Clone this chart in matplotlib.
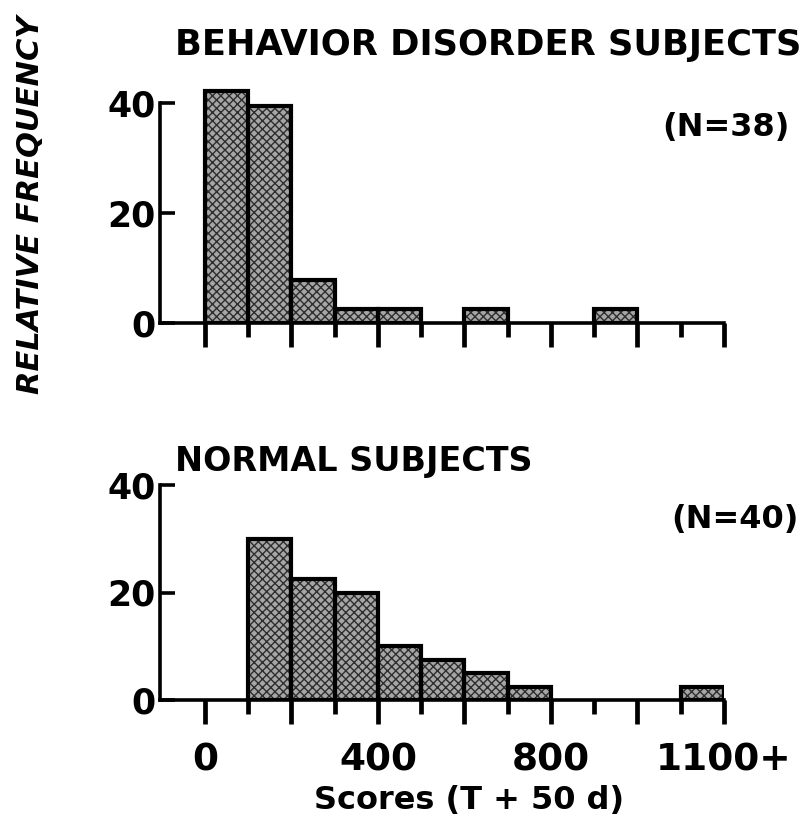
import numpy as np
import matplotlib
matplotlib.use("Agg")
import matplotlib.pyplot as plt

# bin edges in score units (T + 50 d), last bin is 1100+
bin_lefts = [0, 100, 200, 300, 400, 500, 600, 700, 800, 900, 1000, 1100]
# relative frequency (%) per bin
behavior_freq = [42.1, 39.5, 7.9, 2.6, 2.6, 0, 2.6, 0, 0, 2.6, 0, 0]
normal_freq = [0, 30.0, 22.5, 20.0, 10.0, 7.5, 5.0, 2.5, 0, 0, 0, 2.5]

xtick_pos = [0, 400, 800, 1200]
xtick_labels = ["0", "400", "800", "1100+"]
ytick_pos = [0, 20, 40]

plt.rcParams['hatch.linewidth'] = 1.0

fig = plt.figure(figsize=(8.12, 8.25), dpi=100)
ax1 = fig.add_axes([0.197, 0.6085, 0.6946, 0.2933])
ax2 = fig.add_axes([0.197, 0.1515, 0.6946, 0.2867])


def draw_panel(ax, freqs):
    x = np.array(bin_lefts)
    h = np.array(freqs)
    m = h > 0
    # textured fill
    ax.bar(x[m], h[m], width=100, align='edge', color='#a6a6a6',
           hatch='xxxx', edgecolor='#2e2e2e', linewidth=0, zorder=2)
    # heavy outline
    ax.bar(x[m], h[m], width=100, align='edge', fill=False,
           edgecolor='black', linewidth=3.0, zorder=3)
    ax.set_xlim(-104, 1200)
    ax.set_ylim(0, 44)
    for s in ['top', 'right']:
        ax.spines[s].set_visible(False)
    ax.spines['left'].set_bounds(0, 40)
    ax.spines['left'].set_linewidth(2.6)
    ax.spines['bottom'].set_linewidth(2.6)
    ax.set_yticks(ytick_pos)
    ax.set_yticklabels([str(v) for v in ytick_pos], fontsize=25,
                       fontweight='bold')
    ax.tick_params(axis='y', direction='in', length=11, width=2.6, pad=3)
    long_ticks = list(range(0, 1201, 200))
    short_ticks = list(range(100, 1200, 200))
    ax.set_xticks(long_ticks)
    ax.set_xticks(short_ticks, minor=True)
    ax.tick_params(axis='x', which='major', direction='out', length=17,
                   width=3.4)
    ax.tick_params(axis='x', which='minor', direction='out', length=10,
                   width=3.4)
    ax.set_xticklabels([])


draw_panel(ax1, behavior_freq)
draw_panel(ax2, normal_freq)

for xp, lab in zip(xtick_pos, xtick_labels):
    ax2.text(xp, -0.255, lab, transform=ax2.get_xaxis_transform(),
             ha='center', va='center', fontsize=27, fontweight='bold')

fig.text(0.601, 0.945, "BEHAVIOR DISORDER SUBJECTS", ha='center',
         va='center', fontsize=25.4, fontweight='bold')
fig.text(0.894, 0.845, "(N=38)", ha='center', va='center', fontsize=23,
         fontweight='bold')
fig.text(0.436, 0.44, "NORMAL SUBJECTS", ha='center', va='center',
         fontsize=24, fontweight='bold')
fig.text(0.905, 0.37, "(N=40)", ha='center', va='center', fontsize=23,
         fontweight='bold')
fig.text(0.038, 0.752, "RELATIVE FREQUENCY", rotation=90, ha='center',
         va='center', fontsize=22, fontweight='bold', fontstyle='italic')
fig.text(0.578, 0.030, "Scores (T + 50 d)", ha='center', va='center',
         fontsize=23, fontweight='bold')

fig.savefig("out.png", dpi=100)
